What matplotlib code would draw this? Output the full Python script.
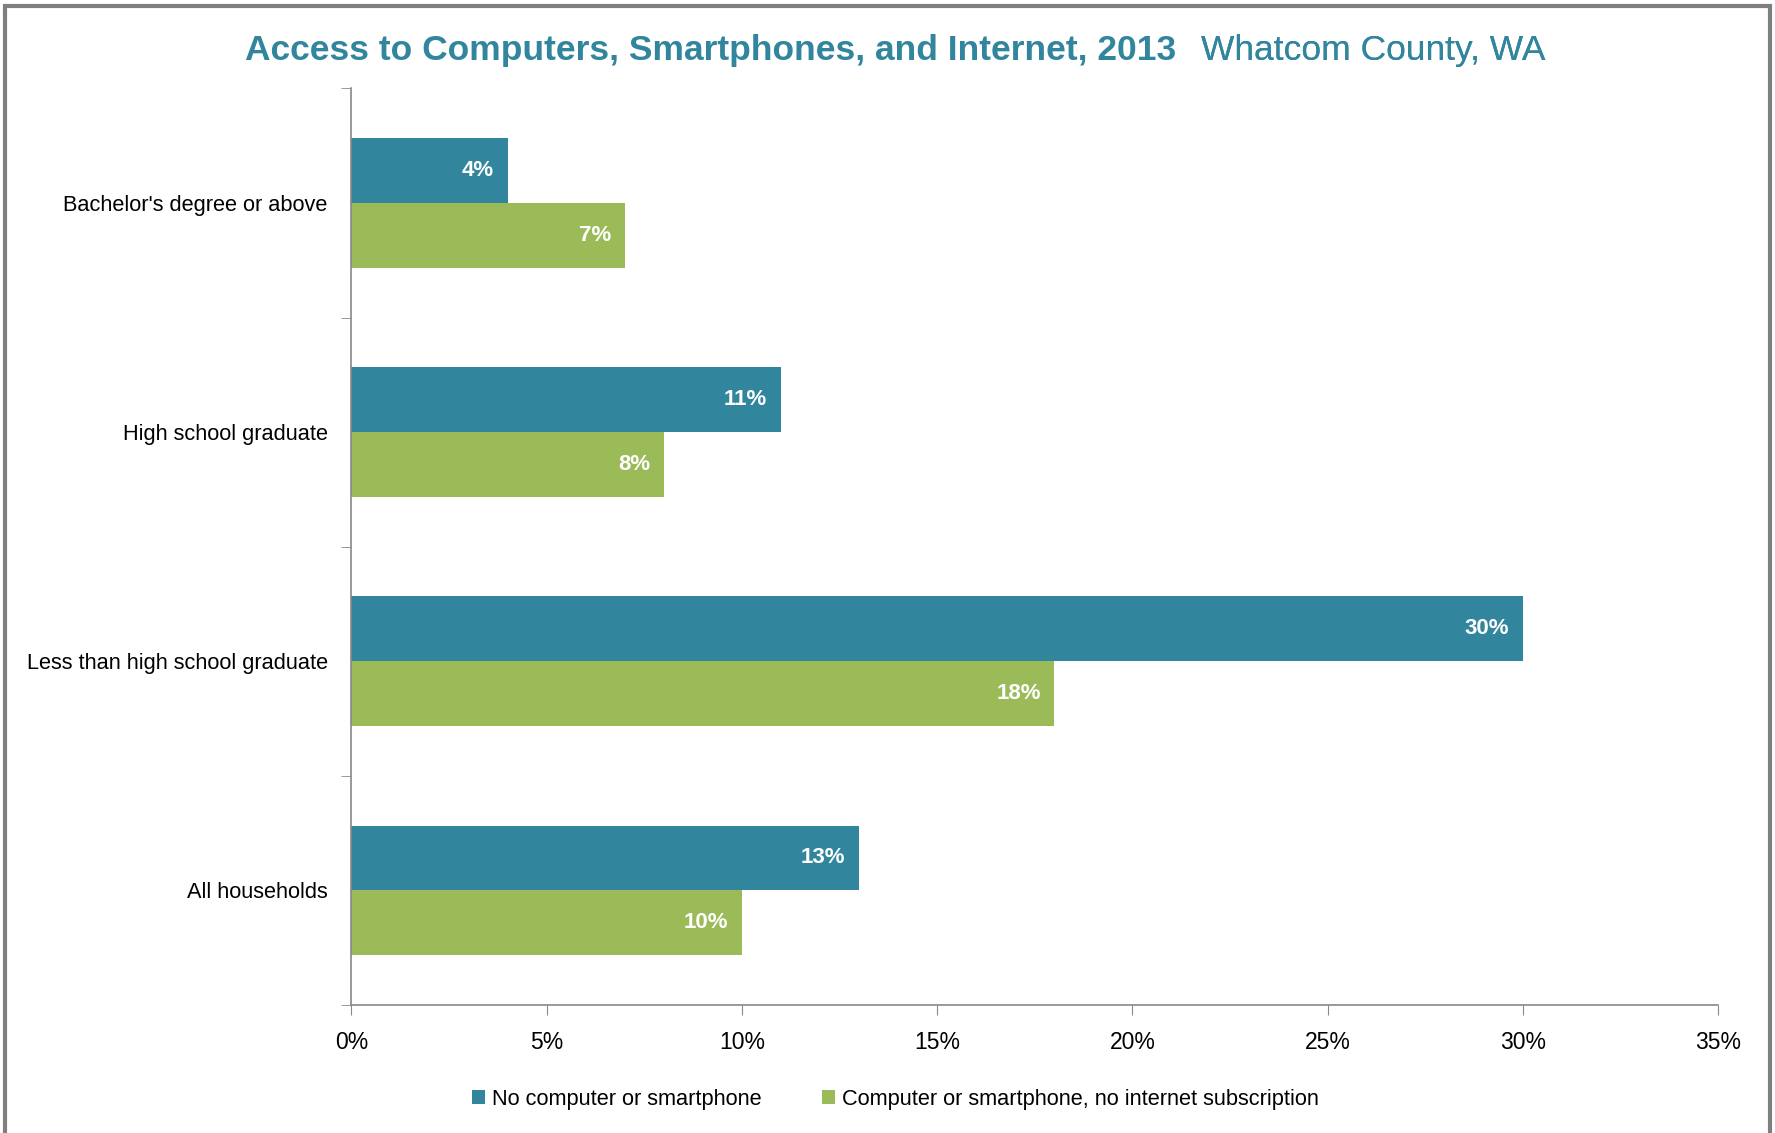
import matplotlib.pyplot as plt
import numpy as np
from matplotlib.patches import Rectangle
from matplotlib.ticker import FuncFormatter

plt.rcParams['font.family'] = ['Liberation Sans', 'DejaVu Sans']

categories = ["Bachelor's degree or above", "High school graduate",
              "Less than high school graduate", "All households"]
no_computer = [4, 11, 30, 13]
no_internet = [7, 8, 18, 10]
series_names = ["No computer or smartphone",
                "Computer or smartphone, no internet subscription"]
xticks = [0, 5, 10, 15, 20, 25, 30, 35]

teal = '#31859C'
green = '#9BBB59'

fig = plt.figure(figsize=(17.75, 11.33), dpi=100)
ax = fig.add_axes([0.198, 0.113, 0.770, 0.809])

y = np.arange(len(categories))
h = 0.283
ax.barh(y - h / 2, no_computer, height=h, color=teal, label=series_names[0])
ax.barh(y + h / 2, no_internet, height=h, color=green, label=series_names[1])

# value labels inside bar ends
for yi, v in zip(y - h / 2, no_computer):
    ax.text(v - 0.35, yi, f"{v}%", ha='right', va='center', color='white',
            fontsize=16, fontweight='bold')
for yi, v in zip(y + h / 2, no_internet):
    ax.text(v - 0.35, yi, f"{v}%", ha='right', va='center', color='white',
            fontsize=16, fontweight='bold')

ax.set_xlim(0, 35)
ax.set_ylim(len(categories) - 0.5, -0.5)
ax.set_xticks(xticks)
ax.xaxis.set_major_formatter(FuncFormatter(lambda v, p: f"{v:.0f}%"))
ax.set_yticks(y)
ax.set_yticklabels(categories)
ax.set_yticks(np.arange(len(categories) + 1) - 0.5, minor=True)
ax.tick_params(axis='y', which='major', length=0, labelsize=15.7, pad=17)
ax.tick_params(axis='y', which='minor', length=7, color='#888888')
ax.tick_params(axis='x', length=7, color='#888888', labelsize=16.5, pad=12)

for s in ['top', 'right']:
    ax.spines[s].set_visible(False)
for s in ['left', 'bottom']:
    ax.spines[s].set_color('#888888')
    ax.spines[s].set_linewidth(1.2)

# two-part title
t1 = fig.text(0.138, 0.955, "Access to Computers, Smartphones, and Internet, 2013",
              color=teal, fontsize=25.5, fontweight='bold', va='center', ha='left')
fig.add_artist(plt.annotate("Whatcom County, WA", xy=(1, 0.5), xycoords=t1,
                            xytext=(18, 0), textcoords='offset points',
                            color=teal, fontsize=25.5, va='center', ha='left'))

ax.legend(loc='upper center', bbox_to_anchor=(0.398, -0.07), ncol=2,
          frameon=False, fontsize=15.7, handlelength=0.6, handleheight=0.6,
          handletextpad=0.3, columnspacing=2.8)

fig.patches.append(Rectangle((0.003, -0.01), 0.994, 1.005, transform=fig.transFigure,
                             fill=False, edgecolor='#7f7f7f', linewidth=3))

fig.savefig('out.png', dpi=100, facecolor='white')
